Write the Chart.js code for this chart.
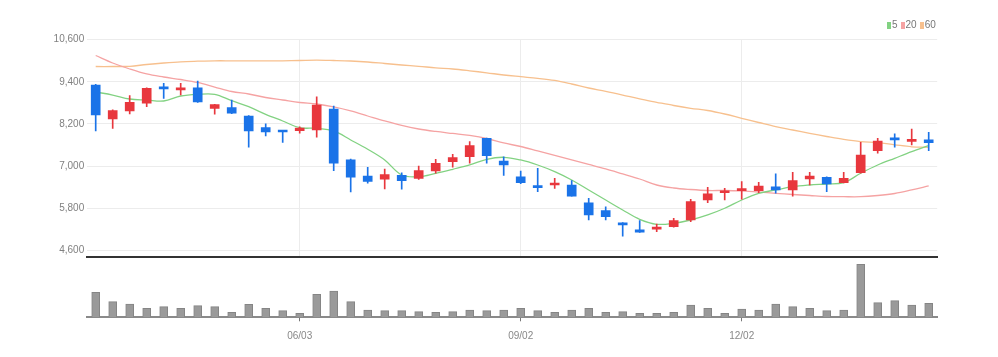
<!DOCTYPE html>
<html>
<head>
<meta charset="utf-8">
<script src="https://cdn.jsdelivr.net/npm/chart.js@4.4.1/dist/chart.umd.min.js"></script>
<style>
  html, body { margin: 0; padding: 0; background: #fff; }
  #wrap { position: relative; width: 998px; height: 357px; overflow: hidden; }
  canvas { position: absolute; left: 0; top: 0; }
  #legend { position: absolute; left: 887px; top: 19px; font: condensed 10px 'Liberation Sans Narrow', 'Liberation Sans', sans-serif; font-stretch: condensed; color: #777; white-space: nowrap; }
  #legend span.item { display: inline-block; margin-right: 3px; }
  #legend span.sw { display: inline-block; width: 4px; height: 7px; margin-right: 1px; vertical-align: -1px; }
</style>
</head>
<body>
<div id="wrap">
  <canvas id="price" width="998" height="357"></canvas>
  <canvas id="vol" width="998" height="357"></canvas>
  <div id="legend"></div>
</div>
<script>
// ---- data ----
const dates = ['03/11','03/18','03/25','04/01','04/08','04/15','04/22','04/29','05/06','05/13',
  '05/20','05/27','06/03','06/10','06/17','06/24','07/01','07/08','07/15','07/22',
  '07/29','08/05','08/12','08/19','08/26','09/02','09/09','09/16','09/23','09/30',
  '10/07','10/14','10/21','10/28','11/04','11/11','11/18','11/25','12/02','12/09',
  '12/16','12/23','12/30','01/06','01/13','01/20','01/27','02/03','02/10','02/17'];
const tickLabels = ['06/03','09/02','12/02'];
const yTicks = [4600, 5800, 7000, 8200, 9400, 10600];

const open  = [9310,8340,8570,8790,9230,9170,9230,8645,8665,8425,8095,8000,8010,8030,8625,7175,6715,6625,6735,6650,
  6860,7125,7265,7790,7145,6695,6430,6460,6460,5955,5730,5385,5180,5205,5270,5465,6035,6240,6300,6300,
  6410,6320,6630,6680,6525,6810,7440,7790,7705,7745];
const high  = [9330,8600,9005,9230,9360,9360,9420,8760,8880,8440,8200,8010,8120,8975,8710,7200,6965,6915,6810,7000,
  7195,7335,7695,7800,7265,6860,6935,6650,6585,6080,5840,5390,5445,5350,5510,6055,6395,6365,6555,6535,
  6775,6820,6820,6690,6820,7675,7790,7915,8055,7960];
const low   = [8000,8075,8485,8690,8930,9025,8810,8475,8490,7535,7855,7675,7935,7820,6870,6260,6510,6345,6340,6620,
  6795,6965,7080,7080,6735,6500,6270,6365,6140,5465,5465,5005,5110,5130,5255,5415,5955,6035,6055,6240,
  6225,6145,6460,6270,6520,6800,7365,7535,7600,7440];
const close = [8455,8580,8815,9215,9200,9200,8825,8750,8505,8000,7970,7970,8085,8740,7080,6680,6565,6755,6585,6870,
  7080,7240,7580,7295,7030,6525,6385,6510,6145,5605,5555,5320,5115,5245,5445,5985,6205,6270,6340,6430,
  6320,6585,6715,6490,6650,7315,7715,7745,7760,7665];
const volume = [250,156,133,90,107,90,117,107,50,130,90,67,40,230,263,156,73,67,67,56,
  50,56,73,67,73,90,67,50,73,90,50,57,40,40,50,123,90,40,83,73,
  133,107,90,67,73,530,147,167,123,140];

const maNames = ['5', '20', '60'];
const ma5  = [9110,9024,8910,8882,8854,8996,9044,9044,8862,8691,8475,8284,8093,8076,7999,7743,7478,7173,6745,6697,
  6794,6908,7030,7193,7250,7173,7030,6840,6603,6318,6033,5748,5483,5341,5369,5463,5606,5797,6033,6224,
  6318,6412,6460,6489,6526,6794,7030,7221,7410,7580];
const ma20 = [10150,9936,9765,9623,9537,9466,9381,9252,9124,9053,8953,8882,8811,8768,8683,8569,8426,8284,8156,8056,
  7985,7928,7871,7785,7657,7557,7429,7301,7173,7045,6916,6774,6631,6460,6375,6332,6304,6304,6290,6261,
  6224,6190,6161,6133,6127,6127,6161,6218,6318,6432];
const ma60 = [9836,9836,9842,9893,9936,9970,9987,9999,9999,9999,9999,9999,10007,10016,10007,9993,9965,9922,9879,9842,
  9799,9765,9714,9657,9594,9546,9500,9438,9338,9224,9130,9024,8911,8817,8725,8646,8583,8483,8361,8241,
  8121,8027,7933,7842,7757,7694,7666,7606,7549,7534];

// ---- styles ----
const UP = '#e8373d', DOWN = '#1a73e8';
const maColors = ['#82d282', '#f5a3a3', '#f7c08e'];
const FONT = "'Liberation Sans Narrow', 'Liberation Sans', sans-serif";
const TICK_FONT = { family: FONT, size: 10, weight: 'normal condensed' };
const candleColors = open.map((o, i) => close[i] >= o ? UP : DOWN);
const isLabeled = (i) => tickLabels.includes(dates[i]);

// legend
const lg = document.getElementById('legend');
maNames.forEach((n, i) => {
  const it = document.createElement('span'); it.className = 'item';
  const sw = document.createElement('span'); sw.className = 'sw'; sw.style.background = maColors[i];
  it.appendChild(sw); it.appendChild(document.createTextNode(n));
  lg.appendChild(it);
});

const AREA_L = 87.2, AREA_R = 998 - 937.2;

// ---- price chart ----
new Chart(document.getElementById('price'), {
  type: 'bar',
  data: {
    labels: dates,
    datasets: [
      { type: 'bar', data: open.map((o, i) => [o, close[i]]), backgroundColor: candleColors,
        barThickness: 9, minBarLength: 2, grouped: false, order: 1 },
      { type: 'bar', data: low.map((l, i) => [l, high[i]]), backgroundColor: candleColors,
        barThickness: 1, grouped: false, order: 2 },
      { type: 'line', label: maNames[0], data: ma5, borderColor: maColors[0], borderWidth: 1.3, pointRadius: 0, tension: 0.35, order: 5 },
      { type: 'line', label: maNames[1], data: ma20, borderColor: maColors[1], borderWidth: 1.3, pointRadius: 0, tension: 0.35, order: 6 },
      { type: 'line', label: maNames[2], data: ma60, borderColor: maColors[2], borderWidth: 1.3, pointRadius: 0, tension: 0.35, order: 7 }
    ]
  },
  options: {
    responsive: false, animation: false, events: [],
    layout: { padding: { left: 0, right: AREA_R, top: 39.7, bottom: 357 - 256.6 } },
    plugins: { legend: { display: false }, tooltip: { enabled: false } },
    scales: {
      x: {
        offset: true,
        ticks: { display: false, autoSkip: false },
        grid: { offset: false, drawTicks: false, color: (c) => isLabeled(c.index) ? '#ececec' : 'rgba(0,0,0,0)', lineWidth: 1 },
        border: { display: true, color: '#333', width: 2 },
        afterFit: (s) => { s.height = 0; }
      },
      y: {
        min: 4420, max: 10600,
        afterBuildTicks: (s) => { s.ticks = yTicks.map(v => ({ value: v })); },
        ticks: { padding: 3, color: '#808080', font: TICK_FONT,
          callback: (v) => Number(v).toLocaleString('en-US') },
        grid: { drawTicks: false, color: '#ececec', lineWidth: 1 },
        border: { display: false },
        afterFit: (s) => { s.width = AREA_L; }
      }
    }
  }
});

// ---- volume chart ----
new Chart(document.getElementById('vol'), {
  type: 'bar',
  data: {
    labels: dates,
    datasets: [
      { data: volume, backgroundColor: '#9a9a9a', borderColor: '#858585', borderWidth: 1, barThickness: 8 }
    ]
  },
  options: {
    responsive: false, animation: false, events: [],
    layout: { padding: { left: AREA_L, right: AREA_R, top: 262, bottom: 0 } },
    plugins: { legend: { display: false }, tooltip: { enabled: false } },
    scales: {
      x: {
        offset: true,
        ticks: { autoSkip: false, maxRotation: 0, padding: 9, color: '#888', font: TICK_FONT,
          callback: (v, i) => isLabeled(i) ? dates[i] : '' },
        grid: { offset: false, drawOnChartArea: false, drawTicks: true, tickLength: 4,
          color: (c) => isLabeled(c.index) ? '#777' : 'rgba(0,0,0,0)' },
        border: { display: true, color: '#8a8a8a', width: 2 },
        afterFit: (s) => { s.height = 357 - 317.3; }
      },
      y: { display: false, min: 0, max: 553 }
    }
  }
});
</script>
</body>
</html>
